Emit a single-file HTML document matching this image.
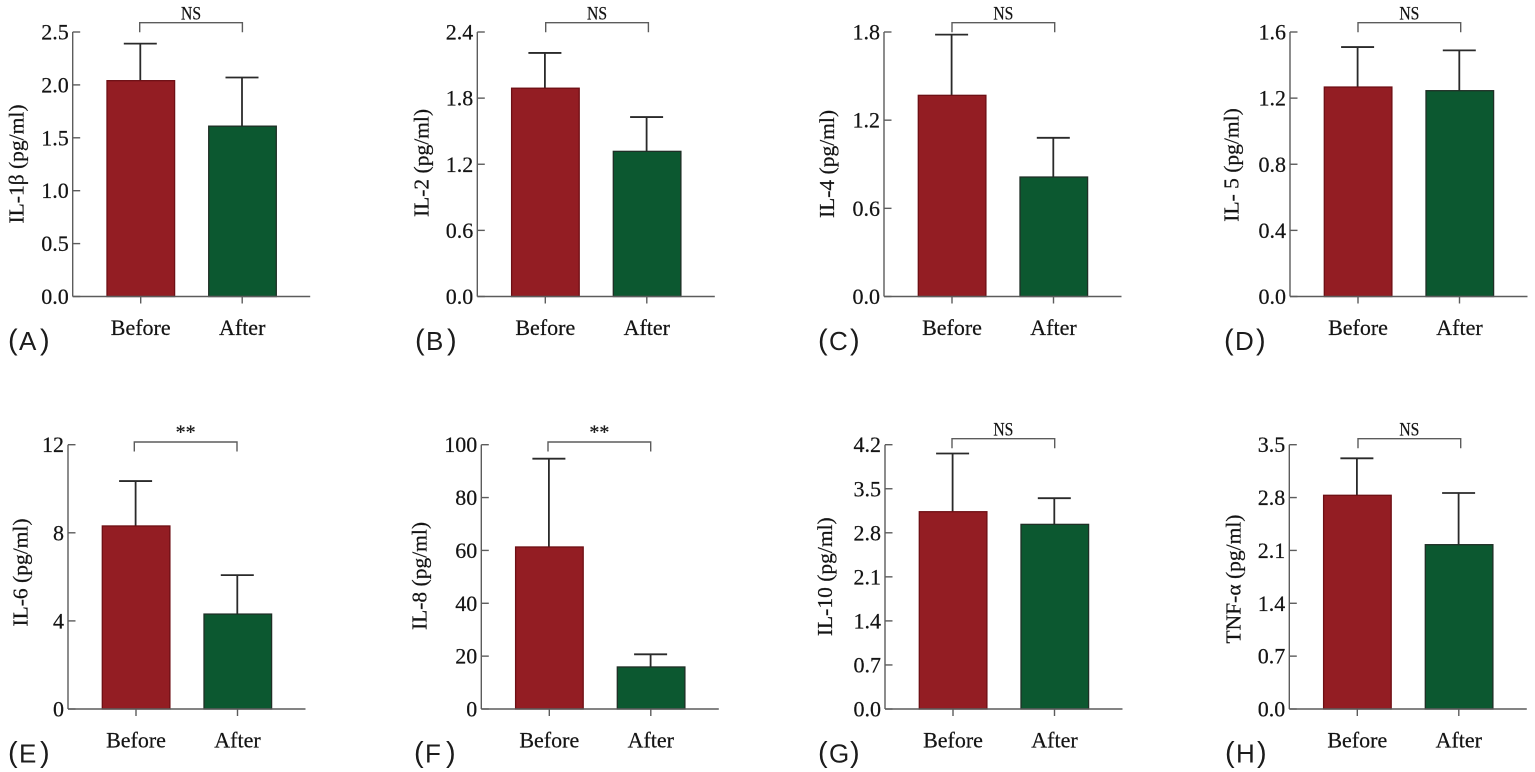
<!DOCTYPE html>
<html lang="en">
<head>
<meta charset="utf-8">
<title>Cytokine levels before and after treatment</title>
<style>
  html, body { margin: 0; padding: 0; background: #fff; }
  #figure { display: block; width: 1535px; height: 772px; filter: blur(0.35px); }
  text { font-family: "Liberation Serif", "Noto Serif CJK SC", serif; fill: #141414; stroke: #141414; stroke-width: 0.22px; }
  text.panel-letter { stroke: none; font-family: "Liberation Sans", sans-serif; fill: #1c1c1c; }
</style>
</head>
<body>
<svg id="figure" xmlns="http://www.w3.org/2000/svg" width="1535" height="772" viewBox="0 0 1535 772"></svg>
<script>
// ---- chart data ----
const categories = ['Before', 'After'];
const panelLetters = ['A', 'B', 'C', 'D', 'E', 'F', 'G', 'H'];
const yTitles = ['IL-1β (pg/ml)', 'IL-2 (pg/ml)', 'IL-4 (pg/ml)', 'IL- 5 (pg/ml)', 'IL-6 (pg/ml)', 'IL-8 (pg/ml)', 'IL-10 (pg/ml)', 'TNF-α (pg/ml)'];
const tickLabels = [
  ['0.0', '0.5', '1.0', '1.5', '2.0', '2.5'],
  ['0.0', '0.6', '1.2', '1.8', '2.4'],
  ['0.0', '0.6', '1.2', '1.8'],
  ['0.0', '0.4', '0.8', '1.2', '1.6'],
  ['0', '4', '8', '12'],
  ['0', '20', '40', '60', '80', '100'],
  ['0.0', '0.7', '1.4', '2.1', '2.8', '3.5', '4.2'],
  ['0.0', '0.7', '1.4', '2.1', '2.8', '3.5']
];
const beforeMeans = [2.04, 1.89, 1.369, 1.267, 8.31, 61.3, 3.135, 2.83];
const afterMeans = [1.61, 1.317, 0.813, 1.245, 4.31, 15.9, 2.934, 2.176];
const beforeErrorTops = [2.39, 2.21, 1.782, 1.509, 10.35, 94.7, 4.06, 3.32];
const afterErrorTops = [2.07, 1.628, 1.08, 1.489, 6.08, 20.7, 3.35, 2.86];
const significance = ['NS', 'NS', 'NS', 'NS', '**', '**', 'NS', 'NS'];

// ---- layout (not data) ----
const axisX = [72.7, 477.3, 884, 1290, 68, 481.3, 885, 1289.3];
const rowTop = [32, 32, 32, 32, 444.7, 444.7, 444.7, 444.7];
const rowBottom = [296.5, 296.5, 296.5, 296.5, 709, 709, 709, 709];
const bracketLeft = [67, 68.4, 68, 68, 66.3, 66.7, 67, 68.7];
const bracketY = [22.7, 22.7, 22.7, 22.7, 442, 442, 438.7, 438.7];
const titleX = [17.5, 422.7, 828, 1232.7, 21.7, 420.7, 826, 1234.3];
const titleY = [164, 163, 164, 165, 572.5, 576, 576.7, 579];
const letterX = [8, 415, 818, 1224, 8, 414, 818, 1225];
const barOffsets = [34.3, 136];
const barWidth = 67.6;
const barFills = ['#931d23', '#0c5830'];
const barStrokes = ['#6e0f14', '#1f2f26'];

const svg = document.getElementById('figure');
const NS = 'http://www.w3.org/2000/svg';

function make(tag, parent, attrs, content) {
  const node = document.createElementNS(NS, tag);
  for (const key in attrs) node.setAttribute(key, attrs[key]);
  if (content !== undefined) node.textContent = content;
  parent.appendChild(node);
  return node;
}

function yAxisScale(i) {
  const labels = tickLabels[i];
  const maxValue = parseFloat(labels[labels.length - 1]);
  return function (v) {
    return rowBottom[i] - (v / maxValue) * (rowBottom[i] - rowTop[i]);
  };
}

function xAxisScale(i) {
  return function (c) { return axisX[i] + barOffsets[c]; };
}

panelLetters.forEach(function (letter, i) {
  const y = yAxisScale(i);
  const x = xAxisScale(i);
  const lower = letter.toLowerCase();
  let el;

  const g = make('g', svg, {});
  
  

  // bars
  categories.forEach(function (cat, c) {
    const value = c === 0 ? beforeMeans[i] : afterMeans[i];
    const errTop = c === 0 ? beforeErrorTops[i] : afterErrorTops[i];
    const mid = x(c) + barWidth / 2 - 0.5;

    el = make('line', g, { x1: mid, x2: mid, y1: y(errTop), y2: y(value), stroke: '#2a2a2a', 'stroke-width': 1.8 });
    
    

    el = make('line', g, { x1: mid - 16.5, x2: mid + 16.5, y1: y(errTop), y2: y(errTop), stroke: '#2a2a2a', 'stroke-width': 1.8 });
    
    

    el = make('rect', g, { x: x(c), y: y(value), width: barWidth, height: y(0) - y(value), fill: barFills[c], stroke: barStrokes[c], 'stroke-width': 1.3 });
    
    

    el = make('line', g, { x1: axisX[i] + 68 + c * 101.5, x2: axisX[i] + 68 + c * 101.5, y1: y(0), y2: y(0) + 7, stroke: '#5c5c5c', 'stroke-width': 1.4 });
    
    

    el = make('text', g, { x: axisX[i] + 68 + c * 101.5, y: rowBottom[i] + 38.5, 'text-anchor': 'middle', 'font-size': 22 }, cat);
    
    
  });

  // axes
  el = make('line', g, { x1: axisX[i], x2: axisX[i], y1: rowTop[i], y2: rowBottom[i], stroke: '#5c5c5c', 'stroke-width': 1.4 });
  
  

  el = make('line', g, { x1: axisX[i], x2: axisX[i] + 237.5, y1: rowBottom[i], y2: rowBottom[i], stroke: '#5c5c5c', 'stroke-width': 1.4 });
  
  

  tickLabels[i].forEach(function (label) {
    const ty = y(parseFloat(label));
    let tickEl = make('line', g, { x1: axisX[i], x2: axisX[i] + 7.5, y1: ty, y2: ty, stroke: '#5c5c5c', 'stroke-width': 1.4 });
    
    

    tickEl = make('text', g, { x: axisX[i] - 4, y: ty + 7.5, 'text-anchor': 'end', 'font-size': 22 }, label);
    
    
  });

  // y title
  el = make('text', g, { transform: 'translate(' + (titleX[i] + 6) + ' ' + titleY[i] + ') rotate(-90)', 'text-anchor': 'middle', 'font-size': 21.5 }, yTitles[i]);
  
  

  // significance bracket
  const bx1 = axisX[i] + bracketLeft[i];
  const bx2 = bx1 + 102.7;
  const by = bracketY[i];
  el = make('path', g, { d: 'M' + bx1 + ' ' + (by + 9.5) + 'V' + by + 'H' + bx2 + 'V' + (by + 9.5), fill: 'none', stroke: '#5c5c5c', 'stroke-width': 1.4 });
  
  

  const isStars = significance[i] === '**';
  if (isStars) {
    el = make('text', g, { x: (bx1 + bx2) / 2, y: by - 3.4, 'text-anchor': 'middle', 'font-size': 20 }, significance[i]);
  } else {
    el = make('text', g, { x: (bx1 + bx2) / 2, y: by - 3, 'text-anchor': 'middle', 'font-size': 19, textLength: 20, lengthAdjust: 'spacingAndGlyphs' }, significance[i]);
  }
  
  

  // panel letter
  const baseY = rowBottom[i] + 53.5;
  const panelText = make('text', g, { y: baseY, 'font-size': 26, class: 'panel-letter' });
  
  
  make('tspan', panelText, { x: letterX[i], y: baseY - 0.5, 'font-size': 29 }, '(');
  make('tspan', panelText, { x: letterX[i] + 11, y: baseY }, letter);
  make('tspan', panelText, { x: letterX[i] + 32, y: baseY - 0.5, 'font-size': 29 }, ')');
});
</script>
</body>
</html>
